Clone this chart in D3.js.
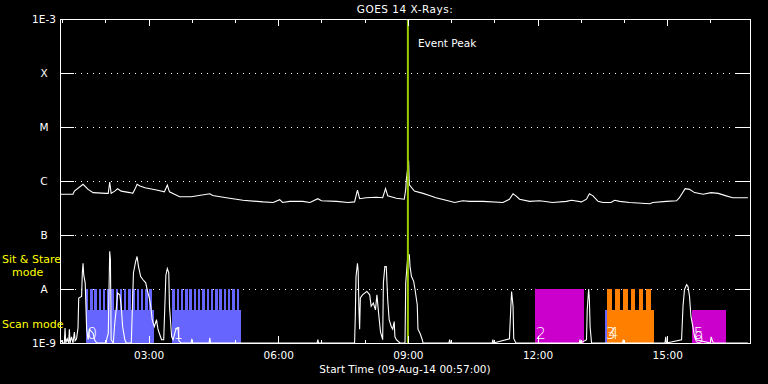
<!DOCTYPE html>
<html>
<head>
<meta charset="utf-8">
<script src="https://cdnjs.cloudflare.com/ajax/libs/d3/7.8.5/d3.min.js"></script>
<style>
  body { margin: 0; background: #000; }
  svg { display: block; }
  text { font-family: "DejaVu Sans", sans-serif; fill: #fff; }
</style>
</head>
<body>
<div id="chart"></div>
<script>
//** time span of the plot (09-Aug-14)
const startTime = '00:57';
const endTime = '16:55';
const eventPeakTime = '09:00';

//** GOES 1-8 A channel
const longTimes = [
  '00:57','01:15','01:17','01:29','01:36','01:43','02:01','02:04','02:06','02:08',
  '02:13','02:17','02:22','02:34','02:38','02:41','02:44','02:48','02:55','03:11',
  '03:22','03:26','03:29','03:43','03:59','04:25','04:29','04:48','05:11','05:39',
  '05:53','06:02','06:06','06:16','06:34','06:44','06:55','07:00','07:21','07:37',
  '07:46','07:50','07:53','08:02','08:16','08:25','08:29','08:32','08:44','08:55',
  '08:57','08:58','09:01','09:02','09:09','09:21','09:30','09:39','09:53','10:05',
  '10:16','10:26','10:44','11:12','11:21','11:26','11:30','11:35','11:49','12:03',
  '12:21','12:40','12:47','13:01','13:08','13:12','13:17','13:24','13:31','13:42',
  '13:47','13:54','14:08','14:36','14:40','14:59','15:13','15:17','15:25','15:31',
  '15:38','15:50','16:01','16:11','16:22','16:31','16:52'
];
const longFlux = [
  5.7e-7,5.7e-7,6.5e-7,8.7e-7,7.0e-7,6.1e-7,5.9e-7,5.9e-7,9.6e-7,5.9e-7,
  6.5e-7,7.2e-7,6.5e-7,6.1e-7,5.9e-7,7.0e-7,8.7e-7,8.1e-7,7.5e-7,6.8e-7,
  6.3e-7,8.4e-7,6.3e-7,5.1e-7,5.1e-7,5.8e-7,5.4e-7,4.9e-7,4.4e-7,4.1e-7,
  4.0e-7,4.5e-7,4.0e-7,4.2e-7,4.2e-7,4.0e-7,4.7e-7,4.3e-7,4.2e-7,4.0e-7,
  4.1e-7,6.8e-7,4.7e-7,4.9e-7,5.0e-7,4.9e-7,7.2e-7,5.3e-7,4.8e-7,4.6e-7,
  7.0e-7,1.1e-6,2.4e-6,8.5e-7,6.5e-7,5.9e-7,5.4e-7,4.9e-7,4.4e-7,4.0e-7,
  4.3e-7,4.2e-7,4.2e-7,4.0e-7,4.6e-7,5.8e-7,5.3e-7,4.6e-7,4.2e-7,4.3e-7,
  4.0e-7,4.2e-7,4.4e-7,4.1e-7,4.6e-7,5.8e-7,5.3e-7,4.2e-7,4.0e-7,4.0e-7,
  4.4e-7,4.2e-7,4.0e-7,3.8e-7,4.0e-7,4.2e-7,4.3e-7,4.9e-7,7.2e-7,7.0e-7,
  6.1e-7,5.7e-7,6.1e-7,5.9e-7,5.3e-7,4.9e-7,4.9e-7
];

//** GOES 0.5-4 A channel
const shortTimes = [
  '00:57','00:59','01:01','01:03','01:04','01:05','01:07','01:09','01:10','01:11',
  '01:13','01:15','01:17','01:18','01:20','01:22','01:23','01:27','01:28','01:29',
  '01:30','01:32','01:33','01:34','01:36','01:38','01:43','01:45','01:48','02:01',
  '02:02','02:04','02:06','02:07','02:08','02:11','02:13','02:15','02:17','02:20',
  '02:22','02:24','02:27','02:29','02:36','02:39','02:42','02:44','02:46','02:49',
  '02:52','02:56','02:58','03:01','03:03','03:05','03:08','03:11','03:13','03:15',
  '03:18','03:21','03:24','03:26','03:28','03:29','03:32','03:34','03:38','03:41',
  '03:42','03:45','03:59','04:00','04:01','04:24','04:25','04:26','06:54','06:55',
  '06:56','07:46','07:47','07:48','07:50','07:51','07:52','07:53','07:54','07:57',
  '08:00','08:03','08:07','08:09','08:12','08:15','08:17','08:20','08:22','08:25',
  '08:26','08:28','08:30','08:32','08:34','08:37','08:39','08:41','08:42','08:44',
  '08:49','08:56','08:57','09:00','09:02','09:03','09:05','09:08','09:10','09:13',
  '09:14','09:17','09:20','09:21','09:57','09:58','09:59','10:57','10:58','10:59',
  '11:21','11:23','11:24','11:26','11:27','11:30','12:58','12:59','13:00','13:08',
  '13:09','13:11','13:12','13:13','13:15','13:58','13:59','14:00','14:57','14:58',
  '14:59','15:20','15:22','15:24','15:27','15:29','15:31','15:33','15:36','15:38',
  '15:40','16:00','16:01','16:04','16:52'
];
const shortFlux = [
  1.0e-9,1.1e-9,1.0e-9,1.0e-9,1.9e-9,1.0e-9,1.2e-9,1.0e-9,1.8e-9,1.0e-9,
  1.3e-9,1.0e-9,1.6e-9,1.1e-9,1.2e-9,1.9e-9,6.8e-9,7.3e-9,2.0e-8,3.0e-8,
  1.8e-8,1.3e-8,4.8e-9,1.8e-9,1.15e-9,1.8e-9,1.5e-9,1.15e-9,1.0e-9,1.0e-9,
  1.2e-9,1.5e-9,5.0e-8,3.5e-8,1.15e-9,1.0e-9,2.3e-9,4.1e-9,8.4e-9,7.8e-9,
  4.8e-9,2.0e-9,1.15e-9,1.0e-9,1.0e-9,2.0e-8,3.2e-8,4.0e-8,2.6e-8,1.7e-8,
  1.5e-8,1.3e-8,9.7e-9,6.8e-9,4.8e-9,2.7e-9,2.0e-9,2.7e-9,1.8e-9,1.5e-9,
  1.15e-9,1.15e-9,1.8e-8,2.4e-8,2.0e-8,4.8e-9,1.3e-9,1.15e-9,1.8e-9,1.9e-9,
  1.1e-9,1.0e-9,1.0e-9,1.2e-9,1.0e-9,1.0e-9,1.25e-9,1.0e-9,1.0e-9,1.15e-9,
  1.0e-9,1.0e-9,3.1e-9,1.7e-8,3.0e-8,2.1e-8,4.5e-9,1.8e-9,6.8e-9,7.8e-9,
  8.4e-9,9.0e-9,7.8e-9,4.8e-9,5.5e-9,4.1e-9,7.8e-9,2.9e-9,1.6e-9,1.15e-9,
  1.3e-8,2.6e-8,2.6e-8,6.3e-9,2.7e-9,2.0e-9,1.8e-9,2.5e-9,1.3e-9,1.15e-9,
  1.0e-9,1.0e-9,1.3e-8,4.3e-8,4.3e-8,2.6e-8,1.7e-8,1.4e-8,9.7e-9,5.1e-9,
  1.8e-9,1.5e-9,1.15e-9,1.0e-9,1.0e-9,1.15e-9,1.0e-9,1.0e-9,1.15e-9,1.0e-9,
  1.2e-9,4.8e-9,9.0e-9,4.8e-9,1.2e-9,1.0e-9,1.0e-9,1.15e-9,1.0e-9,1.15e-9,
  4.1e-9,1.0e-8,6.3e-9,2.0e-9,1.0e-9,1.0e-9,1.15e-9,1.0e-9,1.0e-9,1.3e-9,
  1.0e-9,1.15e-9,4.8e-9,9.7e-9,1.2e-8,1.1e-8,7.3e-9,3.1e-9,1.9e-9,1.3e-9,
  1.15e-9,1.0e-9,1.3e-9,1.0e-9,1.0e-9
];

//** y axis decades and their labels
const levelValues = [1e-9, 1e-8, 1e-7, 1e-6, 1e-5, 1e-4, 1e-3];
const levelLabels = ['1E-9', 'A', 'B', 'C', 'M', 'X', '1E-3'];

//** observation blocks
const obsLabels = ['0', '1', '2', '3', '4', '5', '6'];
const obsStart = ['01:33', '03:33', '11:56', '13:33', '13:37', '15:35', '15:35'];
const obsEnd = ['03:07', '05:08', '13:05', '13:37', '14:42', '16:22', '15:35'];
const obsMode = ['cycle', 'cycle', 'sit', 'scan', 'cycle', 'scan', 'scan'];
const obsTeeth = [16, 16, 0, 0, 6, 0, 0];
const obsColors = ['#6666ff', '#6666ff', '#cc00cc', '#6666ff', '#ff8000', '#cc00cc', '#cc00cc'];
const scanTop = 4.1e-9;
const sitTop = 1e-8;

class GoesChart {
  constructor(settings) {
    this.ss = {};
    for (let m in settings) {
      this.ss[m] = settings[m];
    }
    this.parseTime = d3.timeParse('%H:%M');
    this.createMainG();
    this.createScales();
    this.renderGrid();
    this.renderBlocks();
    this.renderCurves();
    this.renderEvent();
    this.renderAxis();
    this.renderTexts();
  }

  createMainG() {
    this.svg = d3.select(this.ss.node).append('svg')
      .attr('width', this.ss.width)
      .attr('height', this.ss.height);
    this.svg.append('rect')
      .attr('width', this.ss.width)
      .attr('height', this.ss.height)
      .attr('fill', '#000');
    this.w = this.ss.width - this.ss.margins.left - this.ss.margins.right;
    this.h = this.ss.height - this.ss.margins.top - this.ss.margins.bottom;
    this.g = this.svg.append('g')
      .attr('transform', 'translate(' + this.ss.margins.left + ',' + this.ss.margins.top + ')');
    this.g.append('clipPath')
      .attr('id', 'plotclip')
      .append('rect')
      .attr('width', this.w)
      .attr('height', this.h);
  }

  createScales() {
    this.x = d3.scaleTime()
      .domain([this.parseTime(startTime), this.parseTime(endTime)])
      .range([0, this.w]);
    this.y = d3.scaleLog()
      .domain([1e-9, 1e-3])
      .range([this.h, 0]);
  }

  //** dotted lines at the flare classes
  renderGrid() {
    this.g.append('g')
      .selectAll('line')
      .data(levelValues.slice(1, -1))
      .enter().append('line')
      .attr('x1', 15)
      .attr('x2', this.w - 13)
      .attr('y1', d => Math.round(this.y(d)) + 0.5)
      .attr('y2', d => Math.round(this.y(d)) + 0.5)
      .attr('stroke', '#fff')
      .attr('stroke-width', 1)
      .attr('stroke-dasharray', '1,5');
  }

  renderBlocks() {
    let gb = this.g.append('g').attr('clip-path', 'url(#plotclip)');
    let x = this.x;
    let y = this.y;
    obsStart.forEach((s, i) => {
      let x0 = x(this.parseTime(s));
      let x1 = x(this.parseTime(obsEnd[i]));
      let top = obsMode[i] === 'sit' ? sitTop : scanTop;
      if (x1 - x0 > 0) {
        gb.append('rect')
          .attr('x', x0)
          .attr('width', x1 - x0)
          .attr('y', y(top))
          .attr('height', y(1e-9) - y(top))
          .attr('fill', obsColors[i])
          .attr('shape-rendering', 'crispEdges');
      }
      //** sit & stare cycles on top of the scan part
      if (obsTeeth[i] > 0) {
        let p = (x1 - x0) / obsTeeth[i];
        d3.range(obsTeeth[i]).forEach(k => {
          gb.append('rect')
            .attr('x', x0 + k * p)
            .attr('width', p * 0.58)
            .attr('y', y(sitTop))
            .attr('height', y(scanTop) - y(sitTop) + 0.5)
            .attr('fill', obsColors[i])
            .attr('shape-rendering', 'crispEdges');
        });
      }
    });
  }

  renderCurves() {
    let line = d3.line()
      .x(d => this.x(this.parseTime(d[0])))
      .y(d => this.y(d[1]));
    let gc = this.g.append('g').attr('clip-path', 'url(#plotclip)');
    gc.append('path')
      .datum(d3.zip(shortTimes, shortFlux))
      .attr('d', line)
      .attr('fill', 'none')
      .attr('stroke', '#fff')
      .attr('stroke-width', 1.1);
    gc.append('path')
      .datum(d3.zip(longTimes, longFlux))
      .attr('d', line)
      .attr('fill', 'none')
      .attr('stroke', '#fff')
      .attr('stroke-width', 1.1);
  }

  renderEvent() {
    let xe = this.x(this.parseTime(eventPeakTime));
    this.g.append('line')
      .attr('x1', xe).attr('x2', xe)
      .attr('y1', 0).attr('y2', this.h)
      .attr('stroke', '#99cc00')
      .attr('stroke-width', 2);
    this.g.append('text')
      .attr('x', xe + 10)
      .attr('y', 28)
      .style('font-size', '10.5px')
      .text('Event Peak');
  }

  renderAxis() {
    let hours = this.x.ticks(d3.timeHour.every(1));
    let majors = this.x.ticks(d3.timeHour.every(3));
    let fmt = d3.timeFormat('%H:%M');

    //** frame
    this.g.append('rect')
      .attr('x', 0.5).attr('y', 0.5)
      .attr('width', this.w - 0.5).attr('height', this.h - 0.5)
      .attr('fill', 'none')
      .attr('stroke', '#fff')
      .attr('stroke-width', 1)
      .attr('shape-rendering', 'crispEdges');

    //** x ticks on top and bottom, hourly minor and 3 hourly major
    let xt = this.g.append('g').attr('stroke', '#fff').attr('shape-rendering', 'crispEdges');
    hours.forEach(d => {
      let xx = Math.round(this.x(d)) + 0.5;
      let len = majors.some(m => +m === +d) ? 7 : 3.5;
      xt.append('line').attr('x1', xx).attr('x2', xx).attr('y1', 0).attr('y2', len);
      xt.append('line').attr('x1', xx).attr('x2', xx).attr('y1', this.h).attr('y2', this.h - len);
    });

    this.xAxis = d3.axisBottom(this.x)
      .tickValues(majors)
      .tickSize(0)
      .tickPadding(9)
      .tickFormat(fmt);
    this.g.append('g')
      .attr('class', 'xx')
      .attr('transform', 'translate(0,' + this.h + ')')
      .call(this.xAxis);

    //** y axis with flare classes
    this.yAxis = d3.axisLeft(this.y)
      .tickValues(levelValues)
      .tickSize(-14)
      .tickPadding(16)
      .tickFormat((d, i) => levelLabels[i]);
    this.g.append('g')
      .attr('class', 'yy')
      .call(this.yAxis);

    this.yAxisR = d3.axisRight(this.y)
      .tickValues(levelValues)
      .tickSize(-14)
      .tickFormat('');
    this.g.append('g')
      .attr('class', 'yr')
      .attr('transform', 'translate(' + this.w + ',0)')
      .call(this.yAxisR);

    this.g.selectAll('.xx .domain, .yy .domain, .yr .domain').remove();
    this.g.selectAll('.yy line, .yr line')
      .attr('stroke', '#fff')
      .attr('shape-rendering', 'crispEdges');
    this.g.selectAll('.xx text, .yy text')
      .attr('fill', '#fff')
      .style('font-family', '"DejaVu Sans", sans-serif')
      .style('font-size', '10.5px');
    this.g.selectAll('.yy text')
      .attr('text-anchor', 'middle');
  }

  renderTexts() {
    let cx = this.ss.margins.left + this.w / 2;
    this.svg.append('text')
      .attr('x', cx).attr('y', 13)
      .attr('text-anchor', 'middle')
      .style('font-size', '10.5px')
      .style('letter-spacing', '0.5px')
      .text('GOES 14 X-Rays:');
    this.svg.append('text')
      .attr('x', cx).attr('y', 373)
      .attr('text-anchor', 'middle')
      .style('font-size', '10.5px')
      .text('Start Time (09-Aug-14 ' + startTime + ':00)');

    //** mode legend on the left
    let leg = this.svg.append('g').style('font-size', '11px');
    leg.append('text').attr('x', 2).attr('y', 263).style('fill', '#ffff00').text('Sit & Stare');
    leg.append('text').attr('x', 12).attr('y', 276).style('fill', '#ffff00').text('mode');
    leg.append('text').attr('x', 2).attr('y', 328).style('fill', '#ffff00').text('Scan mode');

    //** block numbers
    let gl = this.g.append('g');
    obsLabels.forEach((l, i) => {
      let dy = (i > 0 && obsStart[i] === obsStart[i - 1]) ? 4 : 0;
      gl.append('text')
        .attr('x', this.x(this.parseTime(obsStart[i])) + 1)
        .attr('y', this.h - 4 + dy)
        .style('font-size', '16px')
        .style('font-weight', '200')
        .text(l);
    });
  }
}

new GoesChart({
  node: '#chart',
  width: 768,
  height: 384,
  margins: { top: 19, right: 18, bottom: 41, left: 60 }
});
</script>
</body>
</html>
